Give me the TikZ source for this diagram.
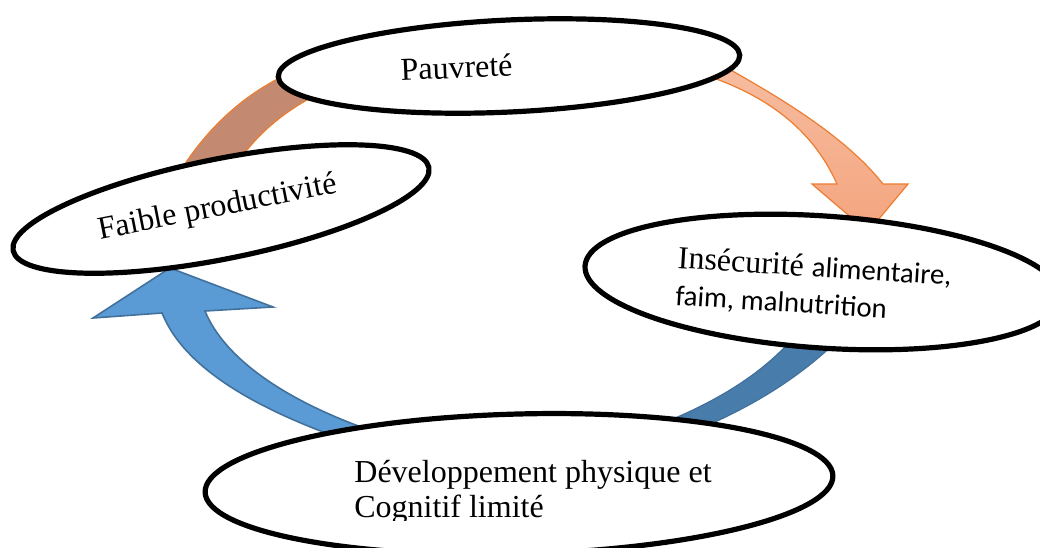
\documentclass[tikz,border=0pt]{standalone}
\usepackage{fontspec}
\setmainfont{Liberation Serif}
\newfontfamily\calib{Carlito}
\usetikzlibrary{shapes.geometric}
\definecolor{aorange}{HTML}{ED7D31}
\definecolor{abrown}{HTML}{C48A71}
\definecolor{salmtop}{HTML}{F6BCA0}
\definecolor{salmbot}{HTML}{F4A57E}
\definecolor{cfill}{HTML}{487CAA}
\definecolor{cline}{HTML}{41719C}
\definecolor{dfill}{HTML}{5B9BD5}
\definecolor{dline}{HTML}{41719C}
\begin{document}
\begin{tikzpicture}[x=0.5pt,y=-0.5pt,
  ell/.style={ellipse, draw=black, line width=2.6pt, fill=white, inner sep=0pt},
  serif/.style={font=\fontsize{16}{18.5}\selectfont, inner sep=0pt},
  sans/.style={font=\calib\fontsize{14.4}{18.5}\selectfont, inner sep=0pt},
  blockarrow/.style={line width=0.6pt, line join=miter}]
\useasboundingbox (0,0) rectangle (1040,547);
\fill[white] (0,0) rectangle (1040,547);
\clip (0,0) rectangle (1040,547);

% block arrows (drawn beneath the ellipses)
\path[blockarrow, draw=aorange, fill=abrown]
  (172,185) .. controls (200,135) and (240,95) .. (292,72)
  -- (322,92) .. controls (285,110) and (255,135) .. (234,168) -- cycle;
\path[blockarrow, draw=aorange, top color=salmtop, bottom color=salmbot]
  (720,64) .. controls (781,98) and (846,137) .. (883,184)
  -- (908,184) -- (868,232) -- (812,184) -- (837,184)
  .. controls (812,128) and (765,95) .. (705,75) -- cycle;
\path[blockarrow, draw=cline, fill=cfill]
  (800,330) .. controls (760,380) and (700,410) .. (640,432)
  -- (692,432) .. controls (745,410) and (800,380) .. (848,330) -- cycle;
\path[blockarrow, draw=dline, fill=dfill, line width=0.8pt]
  (345,440) .. controls (260,410) and (185,370) .. (162,313)
  -- (93,318) -- (170,268) -- (273,307) -- (205,311)
  .. controls (225,360) and (290,405) .. (390,437) -- cycle;

% ellipses
\node[ell, minimum width=231pt, minimum height=46pt, rotate=2.7] (pauv) at (509,66) {};
\node[ell, minimum width=212pt, minimum height=50pt, rotate=11.3] (faible) at (221,209) {};
\node[ell, minimum width=238.5pt, minimum height=66pt, rotate=-3.9] (insec) at (823,282) {};
\node[ell, minimum width=314pt, minimum height=70pt, rotate=1.5] (dev) at (519,484) {};

% texts
\node[serif, anchor=base, rotate=2.6] (tpauv) at (457,78) {Pauvreté};
\node[serif, anchor=base, rotate=11.2] (tfaible) at (219,216) {Faible productivité};
\node[serif, anchor=base west, rotate=-3.6] (tinsA) at (677,268)
  {Insécurité {\calib\fontsize{14.4}{18.5}\selectfont alimentaire,}};
\node[sans, anchor=base west, rotate=-3.6] (tinsB) at (674.7,305) {faim, malnutrition};
\node[serif, anchor=base west] (tdevA) at (354,482) {Développement physique et};
\begin{scope}
  \clip (300,400) rectangle (800,520);
  \node[serif, anchor=base west] (tdevB) at (354,517) {Cognitif limité};
\end{scope}
\end{tikzpicture}
\end{document}
